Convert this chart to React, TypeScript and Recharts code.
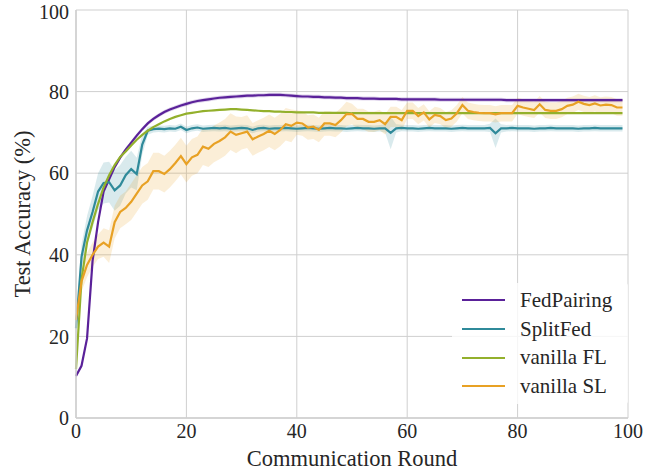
import React from 'react';
import { ComposedChart, Line, Area, XAxis, YAxis, CartesianGrid, Legend } from 'recharts';

const FONT = '"Liberation Serif", "Times New Roman", serif';
const TEXT = '#262626';
const GRID = '#cfcfcf';

const rounds = Array.from({ length: 100 }, (_, i) => i);
const axisTicks = [0, 20, 40, 60, 80, 100];

const seriesNames = ['FedPairing', 'SplitFed', 'vanilla FL', 'vanilla SL'];
const seriesColors = ['#5a2199', '#2f8a9a', '#93b02c', '#e8a124'];

const fedPairing = [
  10.3, 12.8, 19.5, 38.5, 48, 55.5, 58.5, 61.5, 63.8, 65.8,
  67.5, 69.2, 70.8, 72.2, 73.3, 74.2, 75.0, 75.6, 76.1, 76.6,
  77.0, 77.4, 77.7, 77.9, 78.1, 78.3, 78.5, 78.6, 78.7, 78.8,
  78.9, 79.0, 79.0, 79.1, 79.1, 79.2, 79.2, 79.2, 79.1, 79.0,
  78.9, 78.8, 78.8, 78.7, 78.7, 78.6, 78.6, 78.5, 78.5, 78.4,
  78.4, 78.4, 78.3, 78.3, 78.3, 78.2, 78.2, 78.2, 78.2, 78.1,
  78.1, 78.1, 78.1, 78.1, 78.1, 78.1, 78.0, 78.0, 78.0, 78.0,
  78.0, 78.0, 78.0, 78.0, 78.0, 78.0, 78.0, 78.0, 77.9, 77.9,
  77.9, 77.9, 77.9, 77.9, 77.9, 77.9, 77.9, 77.9, 77.9, 77.9,
  77.9, 77.9, 77.9, 77.9, 77.9, 77.9, 77.9, 77.9, 77.9, 77.9,
];
const fedPairingStd = 0.5;

const splitFed = [
  22.0, 39.5, 46.0, 50.5, 55.5, 57.6, 57.8, 55.8, 57.0, 59.5,
  61.0, 59.8, 67.0, 70.4, 70.8, 70.9, 70.8, 71.0, 70.9, 71.4,
  70.6, 71.0, 71.2, 70.9, 71.0, 71.1, 71.0, 71.1, 70.9, 71.0,
  71.1, 71.0, 70.6, 71.0, 71.1, 70.9, 71.0, 71.0, 71.1, 71.0,
  70.9, 71.0, 71.1, 71.0, 70.9, 71.0, 71.1, 71.0, 71.0, 70.9,
  71.0, 71.1, 71.0, 71.0, 70.9, 71.0, 71.0, 69.9, 71.0, 71.1,
  71.0, 71.0, 70.9, 71.0, 71.1, 71.0, 71.0, 71.0, 70.9, 71.0,
  71.1, 71.0, 71.0, 71.0, 71.0, 71.1, 69.8, 71.0, 71.0, 71.1,
  71.0, 71.0, 71.0, 70.9, 71.0, 71.0, 71.1, 71.0, 71.0, 71.0,
  71.0, 70.9, 71.0, 71.0, 71.1, 71.0, 71.0, 71.0, 71.0, 71.0,
];
const splitFedStd = [
  1.5, 3.0, 3.5, 4.0, 4.5, 5.0, 5.0, 5.0, 5.0, 4.5,
  4.5, 4.0, 2.5, 1.0, 0.8, 0.8, 0.8, 0.8, 0.8, 0.8,
  0.8, 0.8, 0.8, 0.8, 0.8, 0.8, 0.8, 0.8, 0.8, 0.8,
  0.8, 0.8, 0.8, 0.8, 0.8, 0.8, 0.8, 0.8, 0.8, 0.8,
  0.8, 0.8, 0.8, 0.8, 0.8, 0.8, 0.8, 0.8, 0.8, 0.8,
  0.8, 0.8, 0.8, 0.8, 0.8, 0.8, 1.0, 4.0, 1.0, 0.8,
  0.8, 0.8, 0.8, 0.8, 0.8, 0.8, 0.8, 0.8, 0.8, 0.8,
  0.8, 0.8, 0.8, 0.8, 0.8, 1.0, 3.6, 1.0, 0.8, 0.8,
  0.8, 0.8, 0.8, 0.8, 0.8, 0.8, 0.8, 0.8, 0.8, 0.8,
  0.8, 0.8, 0.8, 0.8, 0.8, 0.8, 0.8, 0.8, 0.8, 0.8,
];

const vanillaFL = [
  12.0, 34.0, 43.0, 48.0, 52.5, 56.5, 59.5, 62.0, 64.0, 65.3,
  66.8, 68.2, 69.4, 70.4, 71.3, 72.0, 72.7, 73.3, 73.8, 74.2,
  74.6, 74.8, 75.0, 75.2, 75.3, 75.4, 75.5, 75.6, 75.7, 75.7,
  75.6, 75.5, 75.4, 75.3, 75.2, 75.2, 75.1, 75.1, 75.0, 75.0,
  74.9, 74.9, 74.9, 74.9, 74.8, 74.8, 74.8, 74.8, 74.8, 74.8,
  74.7, 74.7, 74.7, 74.7, 74.7, 74.7, 74.7, 74.7, 74.7, 74.7,
  74.7, 74.7, 74.7, 74.7, 74.7, 74.7, 74.7, 74.7, 74.7, 74.7,
  74.7, 74.7, 74.7, 74.7, 74.7, 74.7, 74.7, 74.7, 74.7, 74.7,
  74.7, 74.7, 74.7, 74.7, 74.7, 74.7, 74.7, 74.7, 74.7, 74.7,
  74.7, 74.7, 74.7, 74.7, 74.7, 74.7, 74.7, 74.7, 74.7, 74.7,
];

const vanillaSL = [
  24.0, 33.5, 37.5, 40.0, 42.0, 43.0, 42.0, 48.0, 50.5, 51.5,
  53.0, 55.0, 57.0, 58.0, 60.5, 60.5, 59.8, 61.0, 62.5, 64.2,
  62.2, 63.9, 64.5, 66.5, 66.0, 67.2, 67.9, 68.8, 70.2, 69.4,
  69.8, 70.2, 68.3, 69.0, 69.6, 70.4, 69.6, 70.6, 72.0, 71.6,
  72.4, 72.2, 71.2, 71.4, 70.6, 72.2, 72.2, 71.8, 73.0, 74.5,
  74.5, 73.3, 73.3, 72.6, 72.6, 73.0, 72.0, 73.8, 73.8, 73.0,
  75.3, 75.3, 74.0, 74.9, 73.2, 74.3, 74.0, 73.0, 73.4, 74.7,
  76.7, 75.3, 75.0, 74.8, 74.7, 74.7, 74.4, 74.7, 74.7, 74.7,
  76.5, 76.1, 75.8, 75.5, 76.9, 75.5, 75.3, 75.3, 75.7, 76.5,
  76.8, 77.5, 77.0, 76.7, 77.1, 76.6, 76.8, 76.7, 76.1, 76.1,
];
const vanillaSLStd = [
  2.0, 2.5, 3.0, 3.0, 3.0, 3.5, 4.0, 4.0, 4.0, 4.0,
  4.5, 4.5, 4.5, 4.5, 4.5, 4.5, 4.5, 4.5, 4.5, 4.5,
  4.5, 4.5, 4.5, 4.5, 4.5, 4.5, 4.5, 4.5, 4.5, 4.5,
  4.0, 4.0, 4.0, 4.0, 4.0, 4.0, 4.0, 4.0, 4.0, 4.0,
  3.0, 3.0, 3.0, 3.0, 3.0, 3.0, 3.0, 3.0, 3.0, 3.0,
  2.5, 2.5, 2.5, 2.5, 2.5, 2.5, 2.5, 2.5, 2.5, 2.5,
  2.0, 2.0, 2.0, 2.0, 2.0, 2.0, 2.0, 2.0, 2.0, 2.0,
  2.0, 2.0, 2.0, 2.0, 2.0, 2.0, 2.0, 2.0, 2.0, 2.0,
  2.0, 2.0, 2.0, 2.0, 2.0, 2.0, 2.0, 2.0, 2.0, 2.0,
  2.0, 2.0, 2.0, 2.0, 2.0, 2.0, 2.0, 2.0, 2.0, 2.0,
];

const data = rounds.map((r, i) => ({
  round: r,
  fedPairing: fedPairing[i],
  splitFed: splitFed[i],
  vanillaFL: vanillaFL[i],
  vanillaSL: vanillaSL[i],
  fedPairingBand: [fedPairing[i] - fedPairingStd, fedPairing[i] + fedPairingStd],
  splitFedBand: [splitFed[i] - splitFedStd[i], splitFed[i] + splitFedStd[i]],
  vanillaSLBand: [vanillaSL[i] - vanillaSLStd[i], vanillaSL[i] + vanillaSLStd[i]],
}));

const renderLegend = () => (
  <div
    style={{
      background: 'rgba(255,255,255,0.8)',
      borderRadius: 3,
      padding: '3px 0',
      width: 176,
      fontFamily: FONT,
      fontSize: 21,
      color: TEXT,
    }}
  >
    {seriesNames.map((name, i) => (
      <div key={name} style={{ display: 'flex', alignItems: 'center', height: 28.7 }}>
        <span
          style={{
            display: 'inline-block',
            marginLeft: 10,
            width: 43,
            height: 2,
            background: seriesColors[i],
          }}
        />
        <span style={{ marginLeft: 15, lineHeight: '21px' }}>{name}</span>
      </div>
    ))}
  </div>
);

export default function App() {
  const tickStyle = { fontSize: 20, fill: TEXT, fontFamily: FONT };
  return (
    <div style={{ position: 'absolute', left: 0, top: 0, background: '#fff' }}>
      <ComposedChart
        width={667}
        height={472}
        data={data}
        margin={{ top: 10, right: 39, left: 0, bottom: 0 }}
      >
        <CartesianGrid stroke={GRID} strokeWidth={1} />
        <XAxis
          dataKey="round"
          type="number"
          domain={[0, 100]}
          ticks={axisTicks}
          height={54}
          tickLine={false}
          tickSize={4}
          tickMargin={2}
          axisLine={{ stroke: GRID, strokeWidth: 1.5 }}
          tick={tickStyle}
          label={{
            value: 'Communication Round',
            position: 'insideBottom',
            offset: 6,
            style: { fontSize: 22.5, fill: TEXT, fontFamily: FONT },
          }}
        />
        <YAxis
          type="number"
          domain={[0, 100]}
          ticks={axisTicks}
          width={76}
          tickLine={false}
          tickSize={5}
          tickMargin={2}
          axisLine={{ stroke: GRID, strokeWidth: 1.5 }}
          tick={tickStyle}
          label={{
            value: 'Test Accuracy (%)',
            angle: -90,
            position: 'center',
            dx: -16,
            style: { fontSize: 22.5, fill: TEXT, fontFamily: FONT, textAnchor: 'middle' },
          }}
        />
        <Area
          dataKey="fedPairingBand"
          stroke="none"
          fill={seriesColors[0]}
          fillOpacity={0.2}
          isAnimationActive={false}
          activeDot={false}
          legendType="none"
        />
        <Line
          dataKey="fedPairing"
          name={seriesNames[0]}
          stroke={seriesColors[0]}
          strokeWidth={2.2}
          dot={false}
          isAnimationActive={false}
        />
        <Area
          dataKey="splitFedBand"
          stroke="none"
          fill={seriesColors[1]}
          fillOpacity={0.18}
          isAnimationActive={false}
          activeDot={false}
          legendType="none"
        />
        <Line
          dataKey="splitFed"
          name={seriesNames[1]}
          stroke={seriesColors[1]}
          strokeWidth={2.2}
          dot={false}
          isAnimationActive={false}
        />
        <Line
          dataKey="vanillaFL"
          name={seriesNames[2]}
          stroke={seriesColors[2]}
          strokeWidth={2.2}
          dot={false}
          isAnimationActive={false}
        />
        <Area
          dataKey="vanillaSLBand"
          stroke="none"
          fill={seriesColors[3]}
          fillOpacity={0.18}
          isAnimationActive={false}
          activeDot={false}
          legendType="none"
        />
        <Line
          dataKey="vanillaSL"
          name={seriesNames[3]}
          stroke={seriesColors[3]}
          strokeWidth={2.2}
          dot={false}
          isAnimationActive={false}
        />
        <Legend
          layout="horizontal"
          verticalAlign="middle"
          align="center"
          content={renderLegend}
          wrapperStyle={{ left: 452, top: 283, width: 176 }}
        />
      </ComposedChart>
    </div>
  );
}
